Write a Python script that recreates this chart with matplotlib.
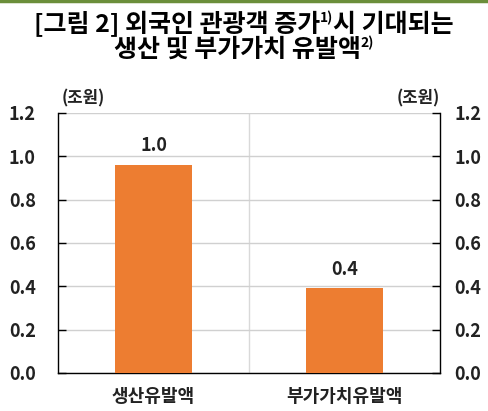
import matplotlib
matplotlib.use("Agg")
import matplotlib.pyplot as plt
from matplotlib.lines import Line2D
from matplotlib.transforms import ScaledTranslation

plt.rcParams['font.family'] = ['Noto Sans CJK KR', 'DejaVu Sans']

categories = ["생산유발액", "부가가치유발액"]
values = [0.96, 0.39]
value_labels = ["1.0", "0.4"]
yticks = [0.0, 0.2, 0.4, 0.6, 0.8, 1.0, 1.2]
unit = "(조원)"
title1_main = "[그림 2] 외국인 관광객 증가"
title1_sup = "1)"
title1_rest = "시 기대되는"
title2_main = "생산 및 부가가치 유발액"
title2_sup = "2)"

bar_color = "#ED7D31"

fig = plt.figure(figsize=(4.88, 4.11), dpi=100)
ax = fig.add_axes([0.1189, 0.0925, 0.7828, 0.6326])

x = list(range(len(categories)))
ax.bar(x, values, width=0.4, color=bar_color, zorder=3)
for xi, v, lab in zip(x, values, value_labels):
    ax.text(xi, v + 0.045, lab, ha='center', va='bottom', fontsize=13,
            fontweight='bold', color='#222222', zorder=4)

ax.set_xlim(-0.5, 1.5)
ax.set_ylim(0, 1.2)
ax.set_yticks(yticks)
ax.set_yticklabels([f"{t:.1f}" for t in yticks])
ax.grid(axis='y', color='#D0D0D0', linewidth=1.0, zorder=0)
ax.axvline(0.5, color='#D9D9D9', linewidth=1.0, zorder=0)
ax.set_xticks(x)
ax.set_xticklabels(categories, fontsize=13, fontweight='bold', color='#222222')
ax.tick_params(axis='x', length=0, pad=10)
ax.tick_params(axis='y', direction='in', length=6, width=1.0, labelsize=13,
               pad=16, right=True, labelright=True, left=True, labelleft=True)
shift = ScaledTranslation(-8 / 100, 0, fig.dpi_scale_trans)
for t in ax.yaxis.get_major_ticks():
    t.label1.set_fontweight('bold')
    t.label1.set_color('#222222')
    t.label2.set_fontweight('bold')
    t.label2.set_color('#222222')
    t.label2.set_transform(t.label2.get_transform() + shift)
ax.spines['top'].set_visible(False)
for s in ['left', 'right', 'bottom']:
    ax.spines[s].set_color('black')
    ax.spines[s].set_linewidth(1.0)

fig.text(62 / 488, 1 - 98 / 411, unit, ha='left', va='center', fontsize=12,
         fontweight='bold', color='#222222')
fig.text(440 / 488, 1 - 98 / 411, unit, ha='right', va='center', fontsize=12,
         fontweight='bold', color='#222222')

# top green rule
fig.add_artist(Line2D([0, 1], [1 - 1.5 / 411, 1 - 1.5 / 411], color='#6B8E3A',
                      linewidth=2.5, transform=fig.transFigure))

# title with superscripts
fig.canvas.draw()
renderer = fig.canvas.get_renderer()
tsize = 18
ssize = 10

def line_with_sup(parts, y_px):
    texts = []
    widths = []
    for t, sup in parts:
        txt = fig.text(0, 0, t, fontsize=ssize if sup else tsize, fontweight='bold',
                       color='black', ha='left', va='baseline')
        bb = txt.get_window_extent(renderer)
        texts.append((txt, sup))
        widths.append(bb.width)
    total = sum(widths)
    W = fig.bbox.width
    H = fig.bbox.height
    xpos = (W - total) / 2
    for (txt, sup), w in zip(texts, widths):
        yb = y_px - 10 if sup else y_px
        txt.set_position((xpos / W, 1 - yb / H))
        xpos += w

line_with_sup([(title1_main, False), (title1_sup, True), (title1_rest, False)], 32)
line_with_sup([(title2_main, False), (title2_sup, True)], 57)

fig.savefig("out.png", dpi=100)
